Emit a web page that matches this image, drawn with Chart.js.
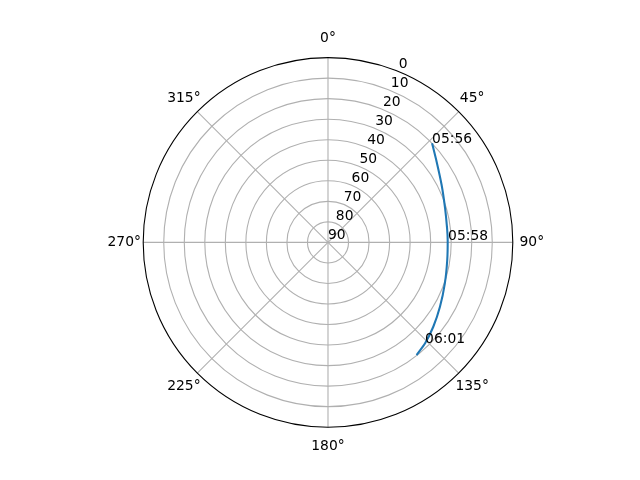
<!DOCTYPE html>
<html>
<head>
<meta charset="utf-8">
<script src="https://cdn.jsdelivr.net/npm/chart.js@4"></script>
<style>
  html, body { margin: 0; padding: 0; background: #fff; }
  #wrap { width: 640px; height: 480px; }
</style>
</head>
<body>
<div id="wrap"><canvas id="skyChart" width="640" height="480"></canvas></div>
<script>
// pass track (azimuth clockwise from north, elevation in degrees)
const azimuth = [46.4, 53.4, 63.2, 73.7, 83.2, 89.0, 98.4, 109.3, 119.9, 128.7, 136.1, 141.8];
const elevation = [20.0, 24.1, 28.0, 30.6, 31.6, 31.7, 31.3, 29.7, 27.1, 24.3, 21.8, 20.2];

// time stamps written next to the track
const timeLabels = ['05:56', '05:58', '06:01'];
const timeAzimuth = [46.4, 89.0, 136.1];
const timeElevation = [20.0, 31.5, 21.8];

const elevationTicks = [0, 10, 20, 30, 40, 50, 60, 70, 80, 90];
const azimuthTicks = [0, 45, 90, 135, 180, 225, 270, 315];

const FONT = '13.89px "DejaVu Sans"';
const GRID = '#b0b0b0';

function toXY(az, el) {
    const r = 90 - el;
    const a = az * Math.PI / 180;
    return { x: r * Math.sin(a), y: r * Math.cos(a) };
}

const polarGrid = {
    id: 'polarGrid',
    beforeDatasetsDraw(chart) {
        const { ctx, scales: { x, y } } = chart;
        const cx = x.getPixelForValue(0), cy = y.getPixelForValue(0);
        const R = x.getPixelForValue(90) - cx;
        ctx.save();
        ctx.strokeStyle = GRID;
        ctx.lineWidth = 1.1;
        elevationTicks.forEach(e => {
            const r = x.getPixelForValue(90 - e) - cx;
            if (e === 0 || r <= 0) return;
            ctx.beginPath();
            ctx.arc(cx, cy, r, 0, Math.PI * 2);
            ctx.stroke();
        });
        azimuthTicks.forEach(a => {
            const t = a * Math.PI / 180;
            ctx.beginPath();
            ctx.moveTo(cx, cy);
            ctx.lineTo(cx + R * Math.sin(t), cy - R * Math.cos(t));
            ctx.stroke();
        });
        ctx.restore();
    },
    afterDatasetsDraw(chart) {
        const { ctx, scales: { x, y } } = chart;
        const cx = x.getPixelForValue(0), cy = y.getPixelForValue(0);
        const R = x.getPixelForValue(90) - cx;
        ctx.save();
        // outer spine
        ctx.strokeStyle = '#000';
        ctx.lineWidth = 1.1;
        ctx.beginPath();
        ctx.arc(cx, cy, R, 0, Math.PI * 2);
        ctx.stroke();

        ctx.fillStyle = '#000';
        ctx.font = FONT;

        // azimuth labels
        ctx.textAlign = 'center';
        ctx.textBaseline = 'middle';
        azimuthTicks.forEach(a => {
            const t = a * Math.PI / 180;
            const d = R + 19;
            ctx.fillText(a + '°', cx + d * Math.sin(t), cy - d * Math.cos(t));
        });

        // elevation labels along 22.5°
        ctx.textAlign = 'left';
        ctx.textBaseline = 'bottom';
        const t = 22.5 * Math.PI / 180;
        elevationTicks.forEach(e => {
            const r = x.getPixelForValue(90 - e) - cx;
            ctx.fillText(String(e), cx + r * Math.sin(t), cy - r * Math.cos(t));
        });

        // time stamps
        ctx.textBaseline = 'alphabetic';
        timeLabels.forEach((lab, i) => {
            const p = toXY(timeAzimuth[i], timeElevation[i]);
            ctx.fillText(lab, x.getPixelForValue(p.x), y.getPixelForValue(p.y));
        });
        ctx.restore();
    }
};

document.addEventListener('DOMContentLoaded', () => {
    const track = azimuth.map((a, i) => toXY(a, elevation[i]));

    new Chart(document.getElementById('skyChart'), {
        type: 'scatter',
        data: {
            datasets: [{
                data: track,
                showLine: true,
                borderColor: '#1f77b4',
                borderWidth: 2.08,
                pointRadius: 0,
                tension: 0.2
            }]
        },
        options: {
            responsive: false,
            animation: false,
            layout: { padding: { left: 143.2, right: 127.2, top: 57.6, bottom: 52.8 } },
            scales: {
                x: { type: 'linear', min: -90, max: 90, display: false },
                y: { type: 'linear', min: -90, max: 90, display: false }
            },
            plugins: { legend: { display: false }, tooltip: { enabled: false } }
        },
        plugins: [polarGrid]
    });
});
</script>
</body>
</html>
